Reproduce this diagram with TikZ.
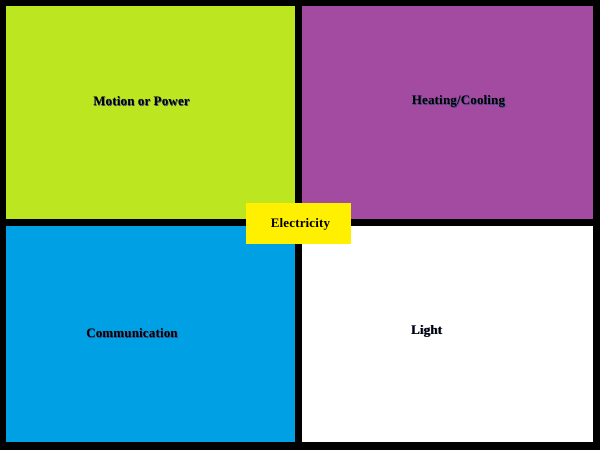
\documentclass[tikz,border=0pt]{standalone}
\usepackage{fontspec}
\setmainfont{Liberation Serif}
\definecolor{limec}{HTML}{BBE620}
\definecolor{purplec}{HTML}{A34BA0}
\definecolor{bluec}{HTML}{00A0E4}
\definecolor{yellowc}{HTML}{FFF000}
\definecolor{shadowc}{HTML}{3A4A8A}
\tikzset{
  panel/.style={fill=#1, draw=none},
  lbl/.style={font=\fontsize{13}{14}\selectfont\bfseries\addfontfeature{LetterSpace=1.2}, text=black, inner sep=0pt},
  shd/.style={font=\fontsize{13}{14}\selectfont\bfseries\addfontfeature{LetterSpace=1.2}, text=shadowc, inner sep=0pt}
}
\begin{document}
\begin{tikzpicture}[x=1pt,y=-1pt]
\fill[black] (0,0) rectangle (600,450);
\useasboundingbox (0,0) rectangle (600,450);
\fill[panel=limec] (6,6) rectangle (295,219);
\fill[panel=purplec] (302,6) rectangle (593,219);
\fill[panel=bluec] (6,226) rectangle (295,442);
\fill[panel=white] (302,226) rectangle (593,442);
\node[panel=yellowc, minimum width=105pt, minimum height=41pt, inner sep=0pt] (elec) at (298.5,223.5) {};
\node[shd] at (142.2,102.3) {Motion or Power};
\node[lbl] (motion) at (141.5,101.5) {Motion or Power};
\node[shd] at (459.2,102.3) {Heating/Cooling};
\node[lbl] (heat) at (458.5,101.5) {Heating/Cooling};
\node[shd] at (132.7,334.3) {Communication};
\node[lbl] (comm) at (132,333.5) {Communication};
\node[shd] at (427.2,331.8) {Light};
\node[lbl] (light) at (426.5,331) {Light};
\node[lbl] (eleclbl) at (300.5,224.5) {Electricity};
\end{tikzpicture}
\end{document}
